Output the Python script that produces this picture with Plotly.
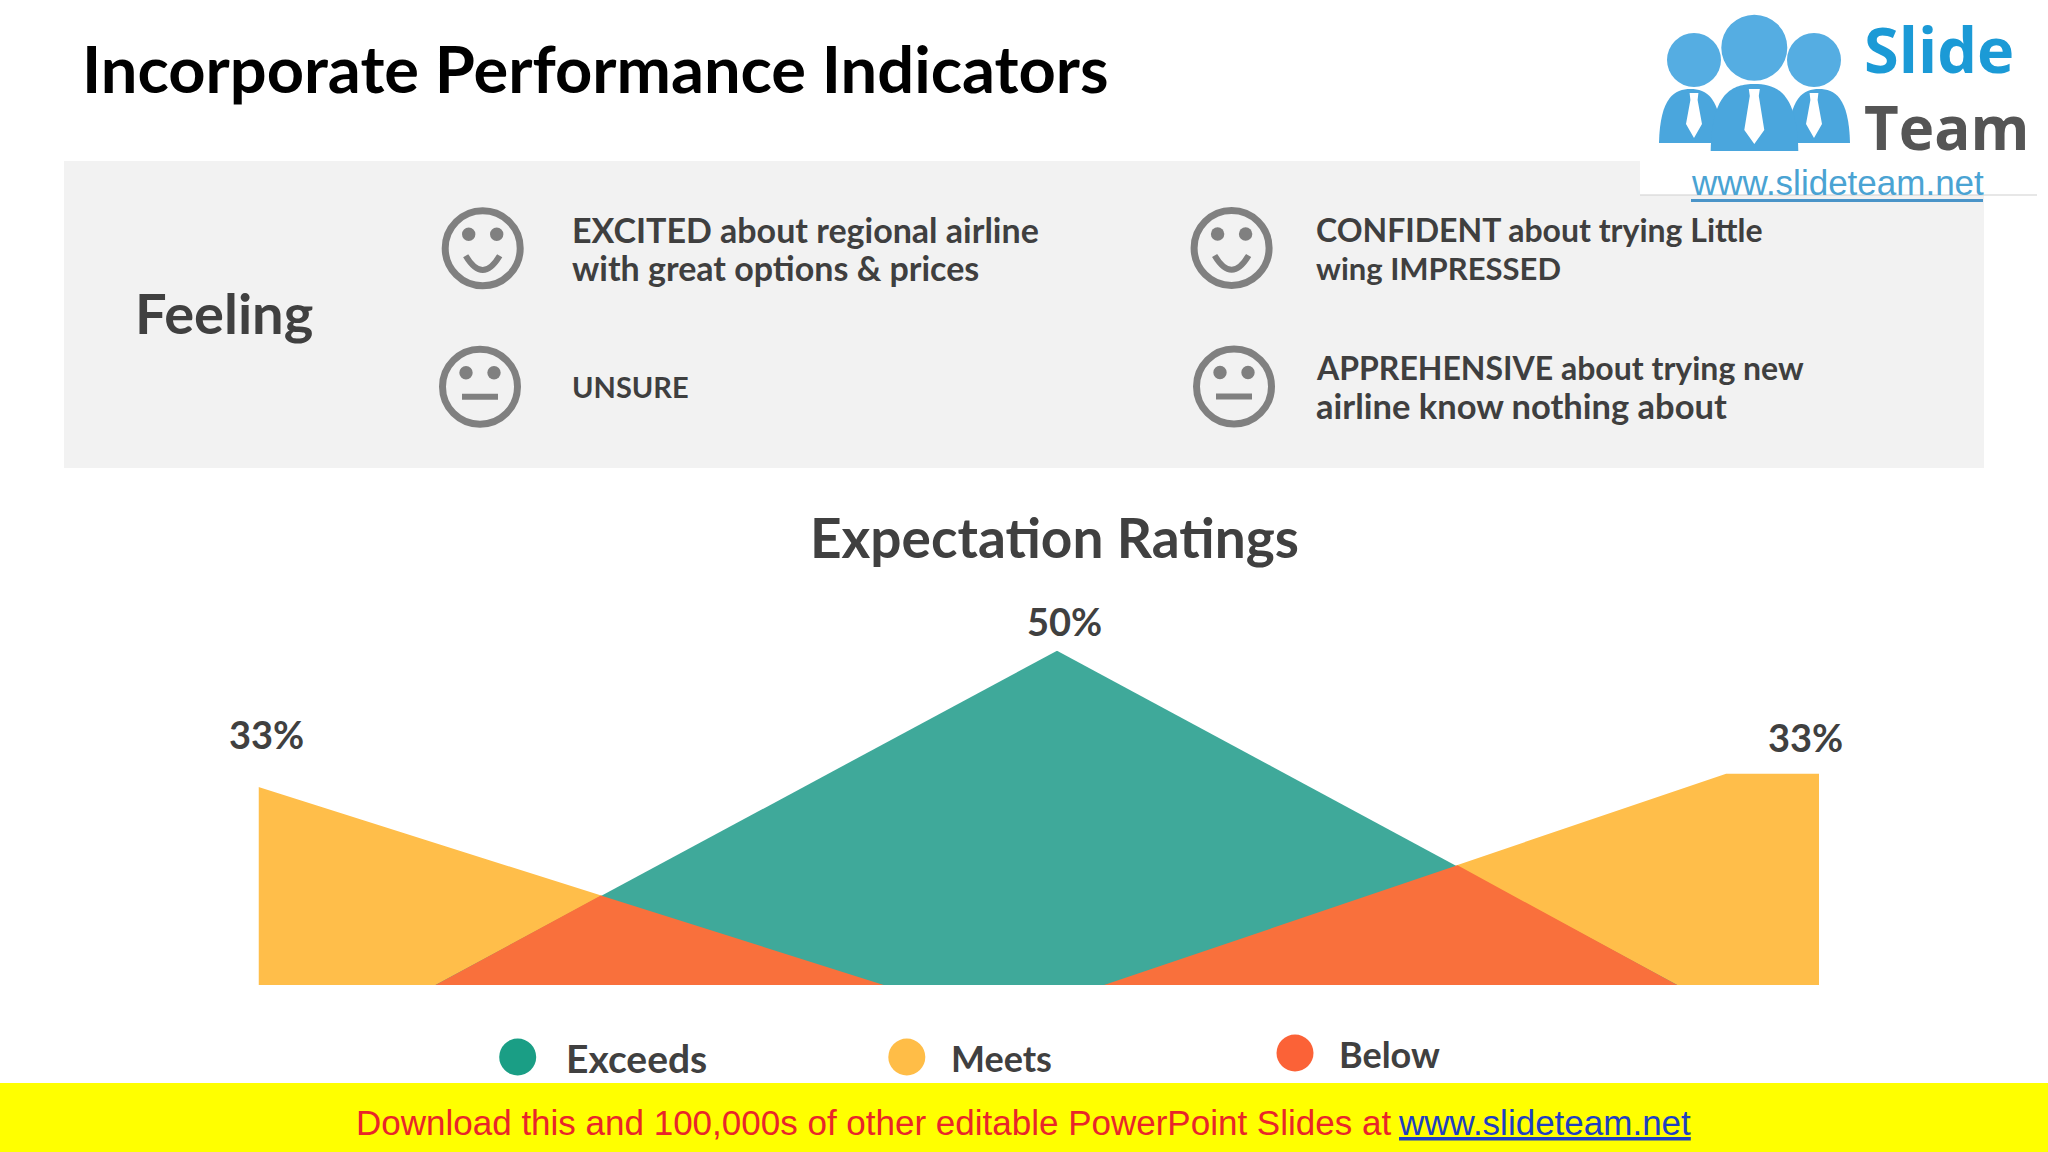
import plotly.graph_objects as go

W, H = 2048, 1152

# ---- data ----
series_names = ["Meets", "Exceeds", "Below"]
meets_x = [-0.288, 0.722, 1.078, 2.083, 2.233]
meets_y = [29.6, 0, 0, 31.6, 31.6]
exceeds_x = [-0.002, 1.002, 2.004]
exceeds_y = [0, 50, 0]
below_x = [-0.002, 0.265, 0.722, 1.078, 1.649, 2.004]
below_y = [0, 13.4, 0, 0, 17.9, 0]
peak_labels = ["33%", "50%", "33%"]
legend_labels = ["Exceeds", "Meets", "Below"]
feelings = ["EXCITED about regional airline", "with great options & prices", "UNSURE",
            "CONFIDENT about trying Little", "wing IMPRESSED",
            "APPREHENSIVE about trying new", "airline know nothing about"]

# ---- styles ----
C_MEETS, C_EXCEEDS, C_BELOW = "#FFBE4A", "#3FA99A", "#F9703C"
L_EXCEEDS, L_MEETS, L_BELOW = "#1A9E85", "#FFBD47", "#FB6237"
DARK = "#404040"
GREY = "#808080"
FONT = "Lato"


def px(x):
    return x / W


def py(y):
    return 1 - y / H


fig = go.Figure()
for name, xs, ys, col in [("Meets", meets_x, meets_y, C_MEETS),
                          ("Exceeds", exceeds_x, exceeds_y, C_EXCEEDS),
                          ("Below", below_x, below_y, C_BELOW)]:
    fig.add_trace(go.Scatter(x=xs, y=ys, name=name, mode="lines", fill="tozeroy",
                             fillcolor=col, line=dict(width=0, color=col),
                             showlegend=False, hoverinfo="skip"))

shapes = []
anns = []


def rect(x0, y0, x1, y1, col):
    shapes.append(dict(type="rect", xref="paper", yref="paper", x0=px(x0), x1=px(x1),
                       y0=py(y1), y1=py(y0), fillcolor=col, line=dict(width=0)))


def ell(cx, cy, rx, ry, fill=None, line=None, lw=0):
    shapes.append(dict(type="circle", xref="paper", yref="paper",
                       x0=px(cx - rx), x1=px(cx + rx), y0=py(cy + ry), y1=py(cy - ry),
                       fillcolor=fill or "rgba(0,0,0,0)",
                       line=dict(width=lw, color=line or "rgba(0,0,0,0)")))


def path(cmds, fill=None, line=None, lw=0):
    s = ""
    for c in cmds:
        s += c[0] + " " + " ".join(
            f"{px(c[i]):.5f},{py(c[i + 1]):.5f}" for i in range(1, len(c), 2)) + " "
    if fill:
        s += "Z"
    shapes.append(dict(type="path", xref="paper", yref="paper", path=s,
                       fillcolor=fill or "rgba(0,0,0,0)",
                       line=dict(width=lw, color=line or "rgba(0,0,0,0)")))


def text(x, y, t, size, col=DARK, bold=True, anchor="left", font=FONT, **kw):
    anns.append(dict(xref="paper", yref="paper", x=px(x), y=py(y), text=f"<b>{t}</b>" if bold else t,
                     showarrow=False, xanchor=anchor, yanchor="middle",
                     font=dict(family=font, size=size, color=col, **kw)))


# grey panel, logo box, banner
rect(64, 161, 1984, 468, "#F2F2F2")
rect(1640, 0, 2048, 195, "#FFFFFF")
rect(1640, 194.5, 2037, 195.5, "#D0D0D0")
rect(0, 1083, W, H, "#FFFF00")


def happy(cx, cy):
    ell(cx, cy, 37.5, 37.5, None, GREY, 7)
    ell(cx - 14, cy - 14, 6.7, 6.7, GREY)
    ell(cx + 14, cy - 14, 6.7, 6.7, GREY)
    path([("M", cx - 17, cy + 7.5), ("Q", cx, cy + 36, cx + 17, cy + 7.5)], None, GREY, 6)


def neutral(cx, cy):
    ell(cx, cy, 37.5, 37.5, None, GREY, 7)
    ell(cx - 14, cy - 14, 6.7, 6.7, GREY)
    ell(cx + 14, cy - 14, 6.7, 6.7, GREY)
    path([("M", cx - 18, cy + 10), ("L", cx + 18, cy + 10)], None, GREY, 6)


happy(482.7, 248.3)
happy(1231.6, 248)
neutral(480, 386.7)
neutral(1234, 386.5)


# logo
def body(x0, x1, top, bot):
    cx = (x0 + x1) / 2
    path([("M", x0, bot), ("C", x0 + 1, top + 8, cx - (x1 - x0) * 0.25, top, cx, top),
          ("C", cx + (x1 - x0) * 0.25, top, x1 - 1, top + 8, x1, bot)], "#4AA6DD")


def tie(cx, top, bot, w):
    path([("M", cx - w * 0.55, top), ("L", cx + w * 0.55, top), ("L", cx + w * 0.45, top + 7),
          ("L", cx + w, bot - 14), ("L", cx, bot), ("L", cx - w, bot - 14),
          ("L", cx - w * 0.45, top + 7)], "#FFFFFF")


ell(1694, 60, 27, 27, "#55ADE2")
ell(1814, 60, 27, 27, "#55ADE2")
body(1659, 1722, 89, 143)
body(1788, 1850, 89, 143)
tie(1694, 93, 138, 8)
tie(1814, 93, 138, 8)
ell(1754.3, 47.7, 33, 33, "#55ADE2")
body(1710.7, 1798.3, 84, 151)
tie(1754.3, 89, 144, 10)
text(1862, 49, "Slide", 63, "#1B9AD6", font="Open Sans")
text(1862, 127, "Team", 60, "#555555", font="Open Sans")
text(1837, 183, "www.slideteam.net", 35, "#4AA3D3", bold=False, anchor="center", font="Liberation Sans")
rect(1691, 199, 1983, 202, "#4A94C8")

# headings
text(79.5, 67.5, "Incorporate Performance Indicators", 65, "#000000")
text(133, 313, "Feeling", 56)
text(1054, 537, "Expectation Ratings", 55, anchor="center")

# feelings text
feel_pos = [(570, 229), (570, 267.5), (570, 386.5), (1314, 229), (1314, 267.5), (1314, 367.5), (1314, 405.5)]
feel_sizes = [34, 34, 29, 32, 31, 32, 34.5]
for (x, y), t, s in zip(feel_pos, feelings, feel_sizes):
    text(x, y, t, s, "#3F3F3F")

# data labels
for (x, y), t in zip([(266.4, 734), (1064.6, 621), (1805, 737)], peak_labels):
    text(x, y, t, 38, anchor="center")

# legend
for (cx, cy, tx), t, col, s in zip([(517.7, 1057, 563.5), (906.8, 1057, 949), (1295, 1053, 1336.5)],
                                   legend_labels, [L_EXCEEDS, L_MEETS, L_BELOW], [39, 36, 36]):
    ell(cx, cy, 18.5, 18.5, col)
    text(tx, cy + 1, t, s)

# banner text
text(1403, 1122, "Download this and 100,000s of other editable PowerPoint Slides at ", 35, "#E8262A",
     bold=False, anchor="right", font="Liberation Sans")
text(1396, 1122, "www.slideteam.net", 35, "#1F3FC0", bold=False, font="Liberation Sans", lineposition="under")

fig.update_layout(
    width=W, height=H, margin=dict(l=0, r=0, t=0, b=0),
    paper_bgcolor="#FFFFFF", plot_bgcolor="rgba(0,0,0,0)",
    xaxis=dict(visible=False, domain=[258.5 / W, 1819 / W], range=[-0.288, 2.233], fixedrange=True),
    yaxis=dict(visible=False, domain=[py(985), py(650.7)], range=[0, 50], fixedrange=True),
    shapes=shapes, annotations=anns, showlegend=False,
)
fig.write_html("out.html", config={"displayModeBar": False},
               post_script="document.body.style.margin='0';document.body.style.overflow='hidden';")
